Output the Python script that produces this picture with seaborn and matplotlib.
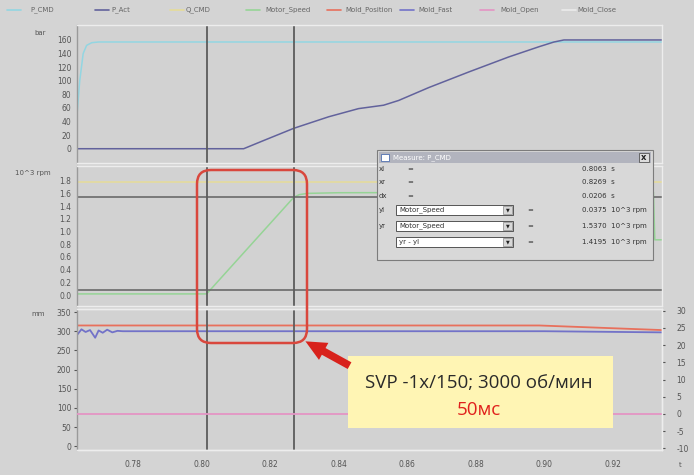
import matplotlib
matplotlib.use("Agg")
import matplotlib.pyplot as plt
import seaborn as sns
from matplotlib.lines import Line2D
from matplotlib.patches import Rectangle, FancyBboxPatch, FancyArrowPatch
from matplotlib.transforms import Affine2D

# legend entries
series_names = ["P_CMD", "P_Act", "Q_CMD", "Motor_Speed", "Mold_Position", "Mold_Fast", "Mold_Open", "Mold_Close"]
series_colors = ["#93d6e2", "#62629c", "#e6dc98", "#96d496", "#e8705c", "#7272c8", "#e494c4", "#ececec"]

# top panel, bar
t_p_cmd = [0.7637, 0.7645, 0.7655, 0.7665, 0.7680, 0.7700, 0.9343]
p_cmd = [50, 100, 140, 152, 156, 157, 157]
t_p_act = [0.7637, 0.8123, 0.8181, 0.8269, 0.8371, 0.8458, 0.8531, 0.8575, 0.8663, 0.8780, 0.8896, 0.8984, 0.9028, 0.9057, 0.9343]
p_act = [0, 0, 12, 30, 47, 59, 64, 71, 90, 113, 135, 150, 157, 160, 160]

# middle panel, 10^3 rpm
t_q_cmd = [0.7637, 0.9343]
q_cmd = [1.78, 1.78]
t_speed = [0.7637, 0.8015, 0.8269, 0.8285, 0.8310, 0.8400, 0.9318, 0.9322, 0.9343]
motor_speed = [0.02, 0.02, 1.537, 1.58, 1.60, 1.61, 1.62, 0.87, 0.87]

# bottom panel, mm (left) and right scale
t_position = [0.7637, 0.8985, 0.9343]
mold_position = [315, 315, 303]
t_fast = [0.7637, 0.7650, 0.7662, 0.7675, 0.7690, 0.7700, 0.7712, 0.7725, 0.7740, 0.7755, 0.7770, 0.9000, 0.9343]
mold_fast = [290, 305, 298, 303, 283, 302, 296, 304, 297, 301, 300, 300, 297]
t_open = [0.7637, 0.9343]
mold_open = [0, 0]

# cursors
cursor_x = [0.8015, 0.8269]
cursor_y = [0.08, 1.537]

x_ticks = [0.78, 0.80, 0.82, 0.84, 0.86, 0.88, 0.90, 0.92]

measure_rows = [("xl", "0.8063", "s"), ("xr", "0.8269", "s"), ("dx", "0.0206", "s"),
                ("yl", "0.0375", "10^3 rpm"), ("yr", "1.5370", "10^3 rpm"), ("", "1.4195", "10^3 rpm")]
measure_combos = ["Motor_Speed", "Motor_Speed", "yr - yl"]

sns.set_style("white")
plt.rcParams["font.family"] = ["DejaVu Sans"]
plt.rcParams["axes.unicode_minus"] = False

W, H = 694, 475
fig = plt.figure(figsize=(W / 100, H / 100), dpi=100)
bg = "#d4d4d4"
fig.patch.set_facecolor(bg)
# pixel coords measured from the top-left corner
T = Affine2D().scale(1 / W, -1 / H).translate(0, 1) + fig.transFigure

def panel(y0, y1):
    return fig.add_axes([77 / W, 1 - y1 / H, (662 - 77) / W, (y1 - y0) / H])

ax1 = panel(25, 163)
ax2 = panel(166, 306)
ax3 = panel(309, 450)
ax4 = ax3.twinx()

tick_col = "#555555"
for ax in (ax1, ax2, ax3, ax4):
    ax.set_facecolor("#d2d2d2")
    ax.set_xlim(0.7637, 0.9343)
    ax.tick_params(axis="both", labelsize=5.5, colors=tick_col, length=2.5, width=0.8, pad=1.5, direction="out")
    for s in ax.spines.values():
        s.set_color("#ededed")
        s.set_linewidth(1.0)
    ax.spines["left"].set_color("#9a9a9a")
for ax in (ax1, ax2):
    ax.set_xticks(x_ticks)
    ax.tick_params(axis="x", length=0, labelbottom=False)
ax4.set_facecolor("none")
ax4.spines["left"].set_visible(False)

def draw(ax, x, y, c, lw=1.1):
    sns.lineplot(x=x, y=y, ax=ax, color=c, linewidth=lw, estimator=None, legend=False)

# top
draw(ax1, t_p_cmd, p_cmd, series_colors[0])
draw(ax1, t_p_act, p_act, series_colors[1], 1.1)
ax1.set_ylim(-21, 182)
ax1.set_yticks(range(-20, 181, 20))
ax1.set_yticklabels([""] + [str(v) for v in range(0, 161, 20)] + [""])

# middle
draw(ax2, t_q_cmd, q_cmd, series_colors[2])
draw(ax2, t_speed, motor_speed, series_colors[3])
for yv in cursor_y:
    ax2.axhline(yv, color="#6a6a6a", lw=1.2)
ax2.set_ylim(-0.17, 2.03)
mid_ticks = [i / 5 for i in range(11)]
ax2.set_yticks(mid_ticks)
ax2.set_yticklabels([f"{v:.1f}" for v in mid_ticks[:-1]] + [""])

# bottom
draw(ax3, t_position, mold_position, series_colors[4], 1.3)
draw(ax3, t_fast, mold_fast, series_colors[5], 1.3)
draw(ax4, t_open, mold_open, series_colors[6], 1.3)
ax3.set_ylim(-10, 358)
ax3.set_yticks(range(0, 351, 50))
ax4.set_ylim(-10.5, 30.5)
ax4.set_yticks(range(-10, 31, 5))
ax3.set_xticks(x_ticks)
ax3.set_xticklabels([f"{v:.2f}" for v in x_ticks])
ax3.tick_params(axis="x", pad=5)
ax4.tick_params(axis="y", pad=8)
for ax in (ax1, ax2, ax3, ax4):
    ax.set_xlabel("")
    ax.set_ylabel("")

for ax in (ax1, ax2, ax3):
    for xv in cursor_x:
        ax.axvline(xv, color="#5c5c5c", lw=1.3)

# legend strip
leg_pos = [(7, 30), (95, 111), (170, 186), (246, 265), (327, 345), (400, 418), (480, 500), (562, 577)]
for (lx, tx), name, c in zip(leg_pos, series_names, series_colors):
    fig.add_artist(Line2D([lx, lx + 14], [10, 10], color=c, lw=1.2, transform=T))
    fig.text(tx, 10, name, transform=T, fontsize=5, color="#666666", va="center")

fig.text(40, 33, "bar", transform=T, fontsize=5, color=tick_col, ha="center", va="center")
fig.text(33, 173, "10^3 rpm", transform=T, fontsize=5, color=tick_col, ha="center", va="center")
fig.text(38, 314, "mm", transform=T, fontsize=5, color=tick_col, ha="center", va="center")
fig.text(680, 465, "t", transform=T, fontsize=5, color=tick_col, ha="center", va="center")

# measure dialog
fig.add_artist(Rectangle((377, 150), 276, 110, transform=T, facecolor="#d8d8d8", edgecolor="#7c7c7c", lw=0.8))
fig.add_artist(Rectangle((379, 152), 272, 11, transform=T, facecolor="#b2b4be", edgecolor="none"))
fig.add_artist(Rectangle((381, 154), 8, 7, transform=T, facecolor="white", edgecolor="#5070b0", lw=0.6))
fig.text(393, 157.5, "Measure: P_CMD", transform=T, fontsize=5, color="white", va="center")
fig.add_artist(Rectangle((639, 153), 10, 9, transform=T, facecolor="#dcdcdc", edgecolor="#555555", lw=0.6))
fig.text(644, 157.5, "x", transform=T, fontsize=6, color="#222222", ha="center", va="center", weight="bold")
row_y = [169, 182, 196, 210, 226, 242]
for (lab, val, unit), ry in zip(measure_rows, row_y):
    fig.text(379, ry, lab, transform=T, fontsize=5, color="#333333", va="center")
    eq_x = 407 if ry < 200 else 527
    fig.text(eq_x, ry, "=", transform=T, fontsize=5, color="#333333", va="center")
    fig.text(582, ry, f"{val}  {unit}", transform=T, fontsize=5, color="#333333", va="center")
for name, ry in zip(measure_combos, row_y[3:]):
    fig.add_artist(Rectangle((396, ry - 5), 117, 10, transform=T, facecolor="white", edgecolor="#555555", lw=0.7))
    fig.add_artist(Rectangle((503, ry - 4), 9, 8, transform=T, facecolor="#d8d8d8", edgecolor="#888888", lw=0.5))
    fig.text(507.5, ry, "▼", transform=T, fontsize=3.5, color="#222222", ha="center", va="center")
    fig.text(399, ry, name, transform=T, fontsize=5, color="#333333", va="center")

# highlight and callout
fig.add_artist(FancyBboxPatch((197, 170), 110, 173, boxstyle="round,pad=0,rounding_size=14",
                              transform=T, facecolor="none", edgecolor="#d9473d", lw=1.8))
fig.add_artist(Rectangle((348, 356), 265, 72, transform=T, facecolor="#fff5b4", edgecolor="none"))
fig.text(479, 383, "SVP -1x/150; 3000 об/мин", transform=T, fontsize=13.5, color="#2a2a2a",
         ha="center", va="center", family=["Open Sans", "DejaVu Sans"])
fig.text(479, 410, "50мс", transform=T, fontsize=13.5, color="#e0201c",
         ha="center", va="center", family=["Open Sans", "DejaVu Sans"])
fig.add_artist(FancyArrowPatch((352, 367), (303, 340), transform=T, color="#d8221c",
                               arrowstyle="simple,head_width=1.4,head_length=1.5,tail_width=0.55",
                               mutation_scale=10, lw=0))

fig.savefig("out.png", dpi=100, facecolor=bg)
